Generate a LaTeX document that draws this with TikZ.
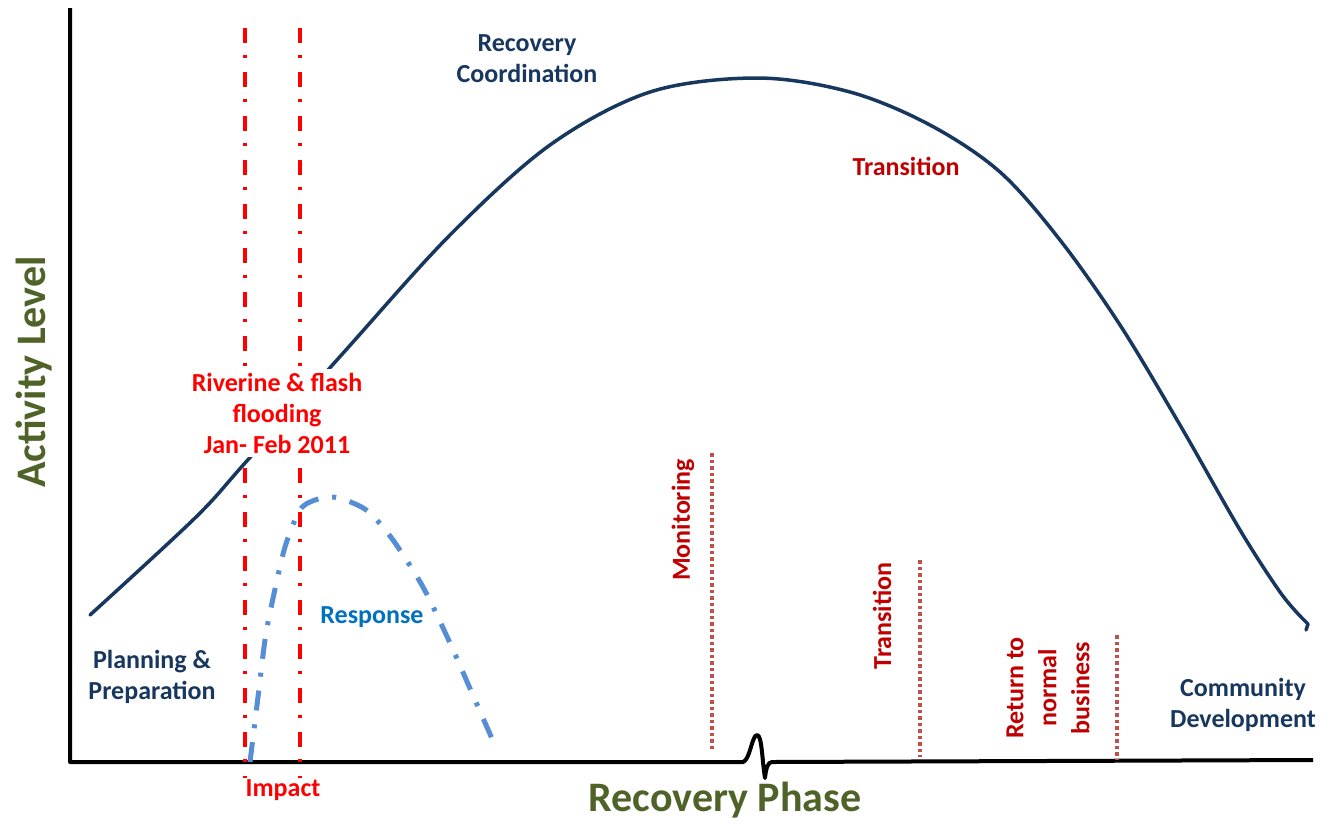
\documentclass[tikz,border=0pt]{standalone}
\usepackage{fontspec}
\setmainfont{Carlito}
\usepackage{tikz}
\usetikzlibrary{calc}
\definecolor{BleuNuit}{RGB}{23,55,94}
\definecolor{BleuClair}{RGB}{85,142,213}
\definecolor{BleuTexte}{RGB}{0,112,192}
\definecolor{RougeFonce}{RGB}{192,0,0}
\definecolor{RougeDoux}{RGB}{192,80,77}
\definecolor{Olive}{RGB}{79,98,40}
\tikzset{
Axe/.style={
 draw=black,
 line width=4pt,
 line join=round
 },
Courbe/.style={
 draw=BleuNuit,
 line width=3.5pt,
 line cap=round,
 line join=round
 },
Reponse/.style={
 draw=BleuClair,
 line width=5pt,
 dash pattern=on 20pt off 14pt on 4pt off 14pt
 },
Evenement/.style={
 draw=red,
 line width=4pt,
 dash pattern=on 15pt off 12pt on 3pt off 14pt
 },
Jalon/.style={
 draw=RougeDoux,
 line width=3.5pt,
 dash pattern=on 3.5pt off 3pt
 },
Etiquette/.style={
 font=\bfseries\fontsize{26}{31}\selectfont,
 align=center,
 inner sep=2pt
 },
Titre/.style={
 font=\bfseries\fontsize{42}{50}\selectfont,
 text=Olive,
 inner sep=0pt
 }
}
\begin{document}
\begin{tikzpicture}[x=1pt,y=-1pt]
\useasboundingbox (0,0) rectangle (1330,823);
% axes, with the break on the time axis
\draw[Axe] (70,8) -- (70,762) -- (743,762)
 .. controls (750,760) and (752,735) .. (757,735)
 .. controls (762,735) and (762,760) .. (765,778)
 .. controls (766,768) and (768,762) .. (772,762)
 -- (1313,760);
% activity curve
\draw[Courbe] plot[smooth,tension=0.55] coordinates {
 (90,615) (195,518) (245,463) (345,351) (450,235) (550,145) (650,92)
 (757,78) (850,92) (930,125) (1000,172) (1060,240) (1120,325)
 (1180,425) (1240,530) (1280,592) (1302,618)}
 -- (1308,624) -- (1306,630);
% response curve
\draw[Reponse] plot[smooth,tension=0.5] coordinates {
 (250,762) (258,697) (265,640) (272,603) (285,547) (300,510) (315,500)
 (333,497) (353,503) (370,513) (393,540) (423,587) (450,643) (472,693)
 (497,750)};
% event lines
\draw[Evenement] (245,28) -- (245,778);
\draw[Evenement] (300,28) -- (300,778);
% milestones
\draw[Jalon] (712,453) -- (712,752);
\draw[Jalon] (920,560) -- (920,757);
\draw[Jalon] (1117,635) -- (1117,760);
% labels
\node[Etiquette,text=red,fill=white,inner sep=4pt] (crue) at (277,413)
 {Riverine \& flash\\flooding\\Jan- Feb 2011};
\node[Etiquette,text=red] (impact) at (283,790) {Impact};
\node[Etiquette,text=BleuNuit] (coord) at (527,59) {Recovery\\Coordination};
\node[Etiquette,text=RougeFonce] (trans) at (906,166) {Transition};
\node[Etiquette,text=BleuNuit] (prep) at (152,677) {Planning \&\\Preparation};
\node[Etiquette,text=BleuTexte] (rep) at (372,617) {Response};
\node[Etiquette,text=BleuNuit] (comm) at (1243,705) {Community\\Development};
\node[Etiquette,text=RougeFonce,rotate=90] (suivi) at (683,520) {Monitoring};
\node[Etiquette,text=RougeFonce,rotate=90] (trans2) at (882,616) {Transition};
\node[Etiquette,text=RougeFonce,rotate=90,font=\bfseries\fontsize{26}{33}\selectfont]
 (retour) at (1048,688) {Return to\\normal\\business};
% axis titles
\node[Titre,rotate=90] (yt) at (34,372) {Activity Level};
\node[Titre,anchor=base] (xt) at (725,811) {Recovery Phase};
\end{tikzpicture}
\end{document}
